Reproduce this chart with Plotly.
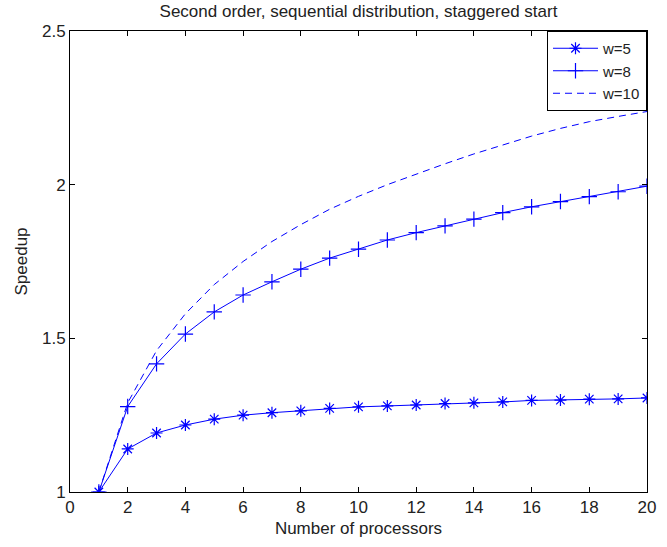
import plotly.graph_objects as go

processors = list(range(1, 21))

speedup_w5 = [1.0, 1.14, 1.192, 1.218, 1.237, 1.250, 1.258, 1.264, 1.272, 1.277,
              1.280, 1.283, 1.288, 1.290, 1.293, 1.298, 1.299, 1.302, 1.303, 1.306]
speedup_w8 = [1.0, 1.278, 1.417, 1.514, 1.586, 1.641, 1.684, 1.725, 1.761, 1.790,
              1.820, 1.844, 1.866, 1.888, 1.909, 1.928, 1.945, 1.961, 1.977, 1.995]
speedup_w10 = [1.0, 1.29, 1.46, 1.58, 1.675, 1.75, 1.815, 1.87, 1.92, 1.962,
               2.0, 2.035, 2.068, 2.100, 2.130, 2.158, 2.183, 2.205, 2.222, 2.238]

series_names = ["w=5", "w=8", "w=10"]

x_ticks = list(range(0, 21, 2))
y_ticks = [1, 1.5, 2, 2.5]
y_tick_labels = ["1", "1.5", "2", "2.5"]

BLUE = "rgb(0,0,255)"
FONT = "Liberation Sans, Arial, sans-serif"
TEXT = "#222"

fig = go.Figure()
fig.add_trace(go.Scatter(
    x=processors, y=speedup_w5, name=series_names[0], mode="lines+markers",
    line=dict(color=BLUE, width=1),
    marker=dict(symbol="asterisk-open", size=10, color=BLUE, line=dict(color=BLUE, width=1.2)),
))
fig.add_trace(go.Scatter(
    x=processors, y=speedup_w8, name=series_names[1], mode="lines+markers",
    line=dict(color=BLUE, width=1),
    marker=dict(symbol="cross-thin-open", size=11, color=BLUE, line=dict(color=BLUE, width=1.2)),
))
fig.add_trace(go.Scatter(
    x=processors, y=speedup_w10, name=series_names[2], mode="lines",
    line=dict(color=BLUE, width=1, dash="7px,5px"),
))

axis_common = dict(
    showline=True, linecolor="black", linewidth=1, mirror="ticks",
    ticks="inside", ticklen=5, tickcolor="black", tickwidth=1,
    showgrid=False, zeroline=False,
    tickfont=dict(family=FONT, size=17, color=TEXT),
)

fig.update_layout(
    width=667, height=547,
    margin=dict(l=70, r=11, t=31, b=55),
    paper_bgcolor="white", plot_bgcolor="white",
    font=dict(family=FONT, size=17, color=TEXT),
    title=dict(text="Second order, sequential distribution, staggered start",
               x=0.5, xref="paper", xanchor="center", y=0.979, yanchor="middle",
               font=dict(family=FONT, size=17, color=TEXT)),
    xaxis=dict(range=[0, 20], tickvals=x_ticks,
               title=dict(text="Number of processors", standoff=5,
                          font=dict(family=FONT, size=17, color=TEXT)),
               **axis_common),
    yaxis=dict(range=[1, 2.5], tickvals=y_ticks, ticktext=y_tick_labels,
               title=dict(text="Speedup", standoff=10,
                          font=dict(family=FONT, size=17, color=TEXT)),
               **axis_common),
    legend=dict(x=1, y=1, xanchor="right", yanchor="top",
                bordercolor="black", borderwidth=1, bgcolor="white",
                font=dict(family=FONT, size=15, color=TEXT),
                itemwidth=45),
    showlegend=True,
)

fig.write_html("out.html")
